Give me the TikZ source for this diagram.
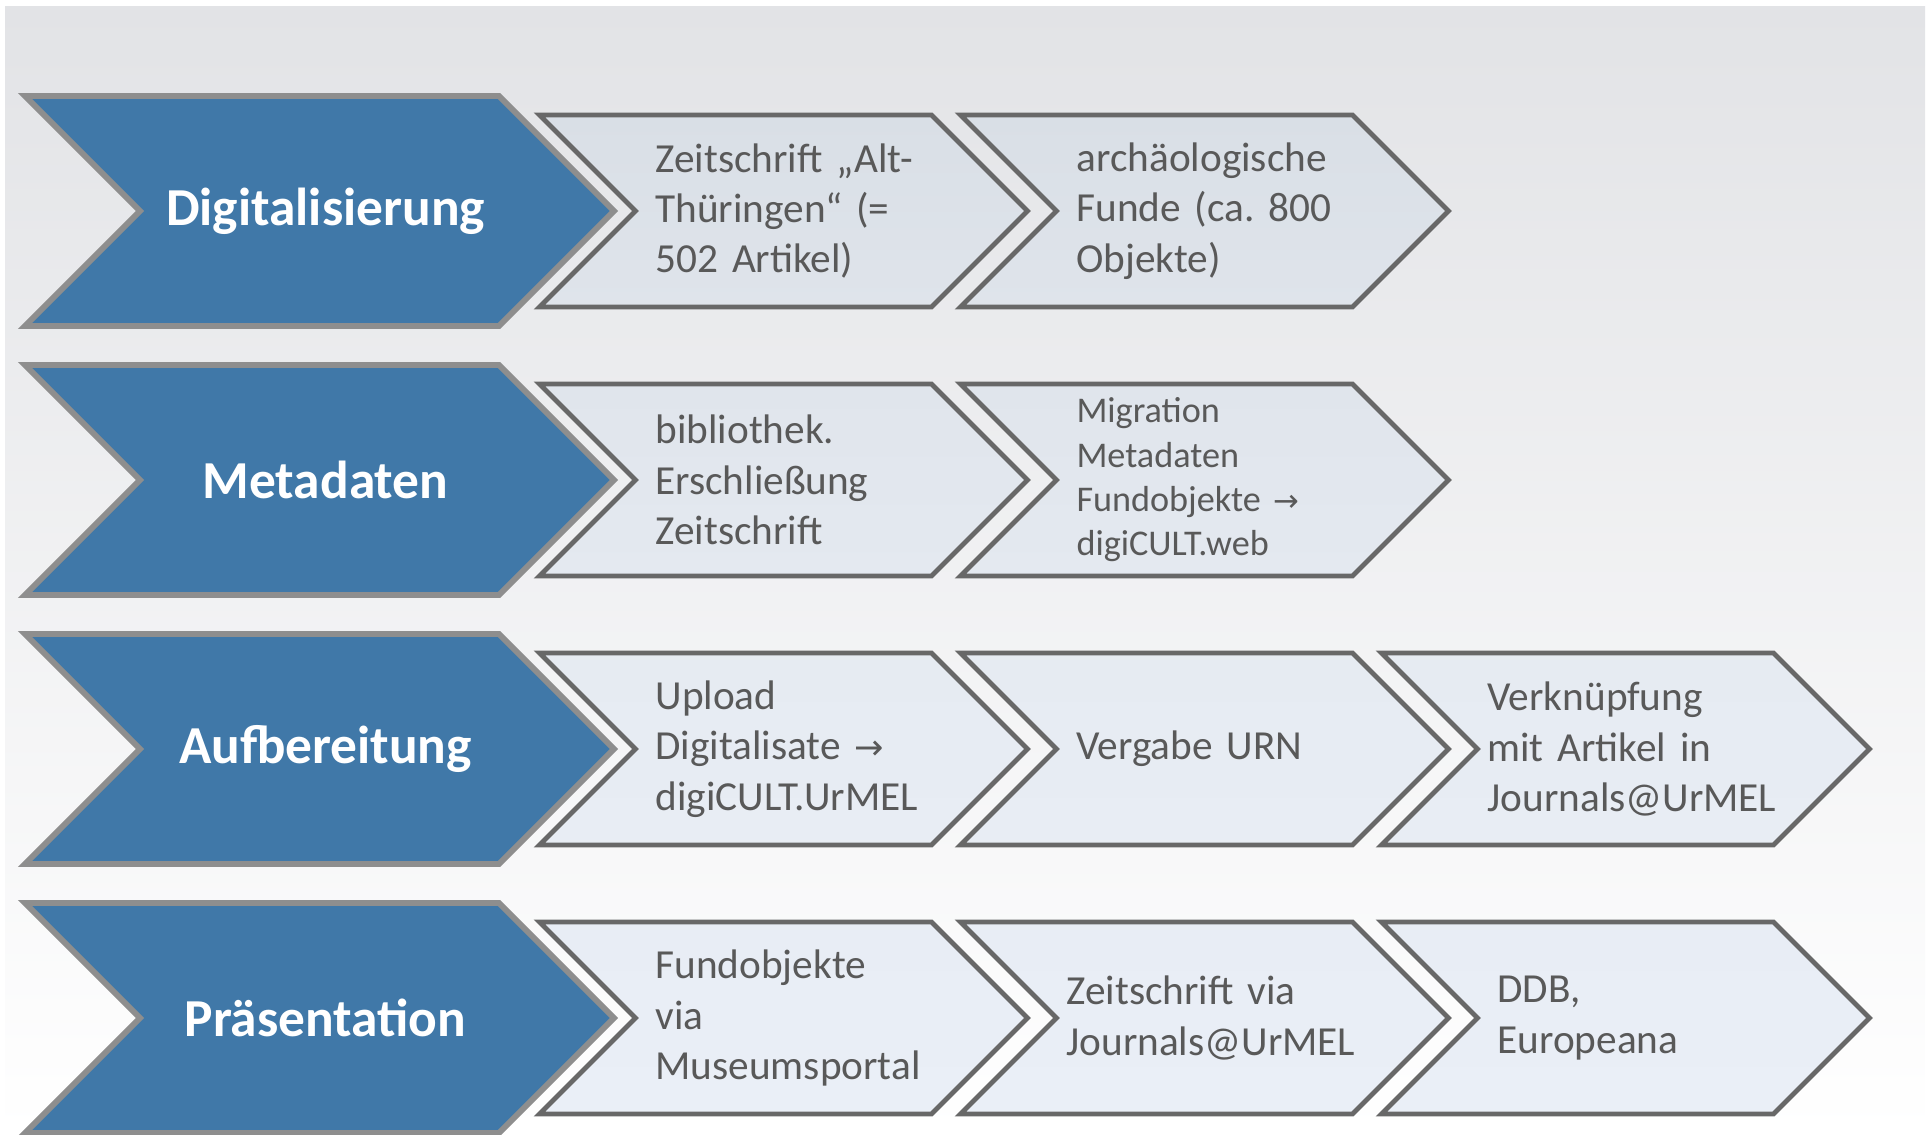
\documentclass[tikz,border=0pt]{standalone}
\usepackage{fontspec}
\setmainfont{Carlito}
\newfontfamily\arrowfont[Scale=0.85]{DejaVu Sans}
\usepackage{tikz}
\usetikzlibrary{shapes.symbols}
\definecolor{phaseblue}{HTML}{4078A8}
\definecolor{phaseline}{HTML}{8E8E8E}
\definecolor{taskline}{HTML}{686868}
\definecolor{tasktext}{HTML}{595959}
\definecolor{bgtop}{HTML}{E2E3E6}
\definecolor{rowonetop}{HTML}{D9DFE6}
\definecolor{rowonebot}{HTML}{DFE4EB}
\definecolor{rowtwotop}{HTML}{E0E5EC}
\definecolor{rowtwobot}{HTML}{E4E9F0}
\definecolor{rowthreetop}{HTML}{E6EBF2}
\definecolor{rowthreebot}{HTML}{E8EDF4}
\definecolor{rowfourtop}{HTML}{E8EDF5}
\definecolor{rowfourbot}{HTML}{EAEFF7}
\newcommand{\tarrow}{{\arrowfont →}}
\tikzstyle{phase} = [signal, signal from=west, signal to=east, signal pointer angle=90, minimum width=5.89cm, minimum height=2.30cm, inner sep=0pt, draw=phaseline, line width=1.7pt, fill=phaseblue, text=white, font=\fontsize{15.2}{18}\selectfont\bfseries, execute at begin node=\hspace*{0.12cm}]
\tikzstyle{task} = [signal, signal from=west, signal to=east, signal pointer angle=90, minimum width=4.88cm, minimum height=1.92cm, inner sep=0pt, text width=2.56cm, align=left, draw=taskline, line width=1.4pt, text=tasktext, font=\fontsize{11.75}{14.34}\selectfont]
\tikzstyle{rowone} = [top color=rowonetop, bottom color=rowonebot]
\tikzstyle{rowtwo} = [top color=rowtwotop, bottom color=rowtwobot]
\tikzstyle{rowthree} = [top color=rowthreetop, bottom color=rowthreebot]
\tikzstyle{rowfour} = [top color=rowfourtop, bottom color=rowfourbot]

\begin{document}
\begin{tikzpicture}[node distance=2.69cm]

\useasboundingbox (0,0) rectangle (19.27,-11.35);
\fill [top color=bgtop, bottom color=white] (0.05,-0.07) rectangle (19.25,-11.35);

\node (dig) [phase] at (3.195,-2.11) {Digitalisierung};
\node (meta) [phase, below of=dig] {Metadaten};
\node (aufb) [phase, below of=meta] {Aufbereitung};
\node (praes) [phase, below of=aufb] {Präsentation};

\node (alt) [task, rowone, right of=dig, xshift=1.95cm] {\mbox{Zeitschrift „Alt-}\\Thüringen“~(=\\502 Artikel)};
\node (funde) [task, rowone, right of=alt, xshift=1.52cm] {archäologische\\Funde~(ca.~800\\Objekte)};

\node (biblio) [task, rowtwo, right of=meta, xshift=1.95cm] {bibliothek.\\Erschließung\\Zeitschrift};
\node (migr) [task, rowtwo, right of=biblio, xshift=1.52cm, font=\fontsize{10.3}{12.6}\selectfont] {Migration\\Metadaten\\Fundobjekte~\tarrow\\digiCULT.web};

\node (upload) [task, rowthree, right of=aufb, xshift=1.95cm] {Upload\\Digitalisate~\tarrow\\digiCULT.UrMEL};
\node (urn) [task, rowthree, right of=upload, xshift=1.52cm] {Vergabe URN};
\node (verkn) [task, rowthree, right of=urn, xshift=1.52cm, text width=2.76cm] {Verknüpfung\\mit Artikel in\\Journals@UrMEL};

\node (portal) [task, rowfour, right of=praes, xshift=1.95cm] {Fundobjekte\\via\\Museumsportal};
\node (jour) [task, rowfour, right of=portal, xshift=1.52cm, text width=2.76cm] {Zeitschrift~via\\Journals@UrMEL};
\node (ddb) [task, rowfour, right of=jour, xshift=1.52cm] {DDB,\\Europeana};

\end{tikzpicture}
\end{document}
